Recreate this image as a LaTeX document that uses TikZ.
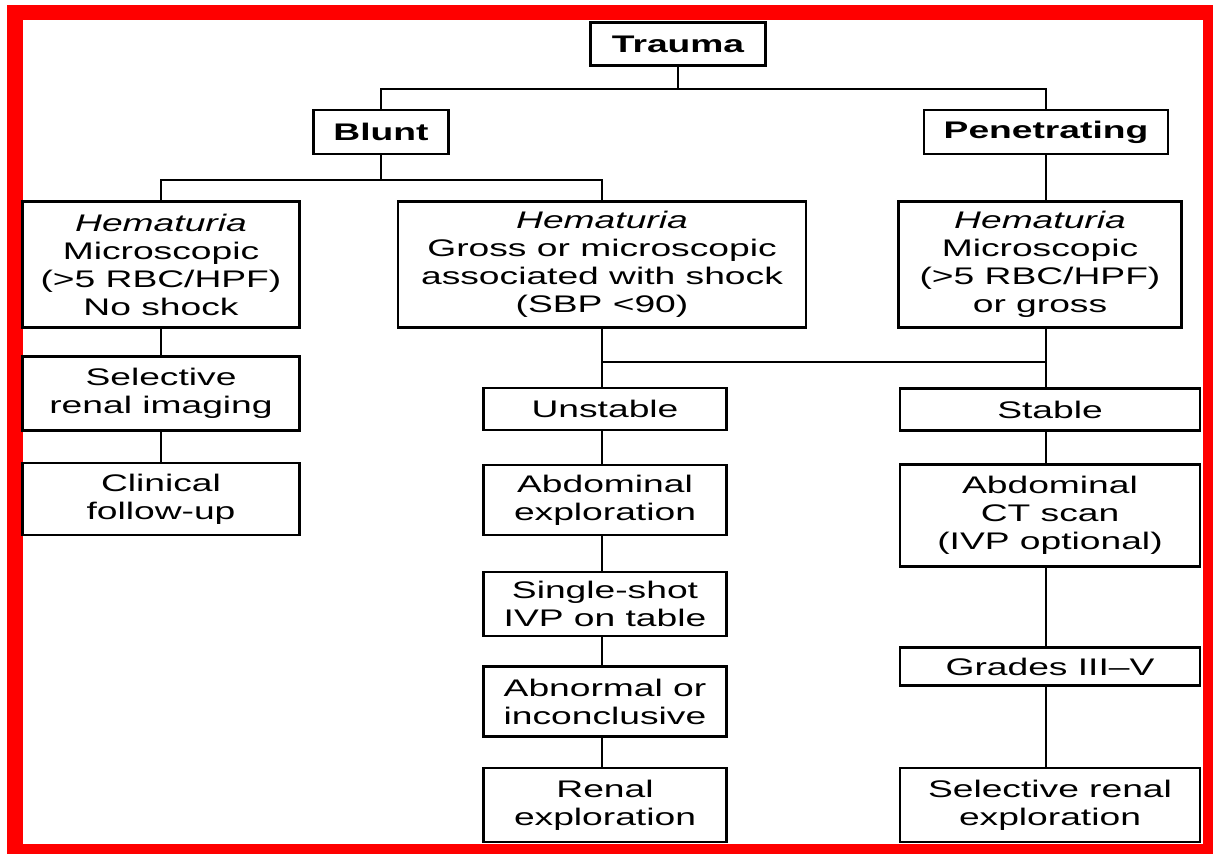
\documentclass[tikz,border=0pt]{standalone}
\usepackage{fontspec}
\setmainfont{Liberation Sans}[FakeStretch=1.55]
\usepackage{tikz}
\usetikzlibrary{positioning,calc}

\begin{document}
\begin{tikzpicture}[
 x=0.75pt,y=-0.75pt,font=\fontsize{18}{21}\selectfont,
 box/.style={draw=black,line width=2.1pt,fill=white,align=center,inner sep=2pt},
 head/.style={box,font=\fontsize{18}{21}\selectfont\bfseries},
 hem/.style={box,minimum height=94pt},
 leftcol/.style={box,minimum width=208pt},
 midcol/.style={box,minimum width=182pt},
 rightcol/.style={box,minimum width=225pt},
 link/.style={line width=2.1pt}]
\useasboundingbox (0,0) rectangle (1213,854);
\fill[red] (7,5) rectangle (1213,854);
\fill[white] (23,20) rectangle (1203,844);
% top levels
\node[head,minimum width=131pt,minimum height=32pt] (trauma) at (678,44) {Trauma};
\node[head,minimum width=101pt,minimum height=33pt] (blunt) at (381,132) {Blunt};
\node[head,minimum width=183pt,minimum height=33pt] (penet) at (1046,132) {Penetrating};
\coordinate (tj) at (678,89);
\draw[link] (trauma.south) -- (tj);
\draw[link] (blunt.north) |- (tj) -| (penet.north);
% hematuria boxes
\node[hem,minimum width=208pt] (hem1) at (161,264.5)
 {\textit{Hematuria}\\Microscopic\\(>5 RBC/HPF)\\No shock};
\node[hem,minimum width=306pt] (hem2) at (602,264.5)
 {\textit{Hematuria}\\Gross or microscopic\\associated with shock\\(SBP <90)};
\node[hem,minimum width=212pt] (hem3) at (1040,264.5)
 {\textit{Hematuria}\\Microscopic\\(>5 RBC/HPF)\\or gross};
\coordinate (bj) at (381,180);
\draw[link] (blunt.south) -- (bj);
\draw[link] (hem1.north) |- (bj) -| (hem2.north);
\draw[link] (penet.south) -- (penet.south |- hem3.north);
% left column
\node[leftcol,minimum height=55pt] (imaging) at (161,393.5) {Selective\\renal imaging};
\node[leftcol,minimum height=54pt] (followup) at (161,499) {Clinical\\follow-up};
\draw[link] (hem1) -- (imaging);
\draw[link] (imaging) -- (followup);
% middle column
\node[midcol,minimum height=31.5pt] (unstable) at (605,409) {Unstable};
\node[midcol,minimum height=52.5pt] (abdexp) at (605,500) {Abdominal\\exploration};
\node[midcol,minimum height=48pt] (ivp) at (605,604) {Single-shot\\IVP on table};
\node[midcol,minimum height=52pt] (abnormal) at (605,701.5) {Abnormal or\\inconclusive};
\node[midcol,minimum height=55.5pt] (renal) at (605,805) {Renal\\exploration};
% right column
\node[rightcol,minimum height=32pt] (stable) at (1050,409.5) {Stable};
\node[rightcol,minimum height=77pt] (ctscan) at (1050,515.5) {Abdominal\\CT scan\\(IVP optional)};
\node[rightcol,minimum height=28pt] (grades) at (1050,666.5) {Grades III--V};
\node[rightcol,minimum height=55.5pt] (selexp) at (1050,805) {Selective renal\\exploration};
% split to stable / unstable
\coordinate (split) at (1046,362);
\draw[link] (hem2.south) -- (hem2.south |- unstable.north);
\draw[link] (hem3.south -| split) -- (split |- stable.north);
\draw[link] (hem2.south |- split) -- (split);
\foreach \a/\b in {unstable/abdexp,abdexp/ivp,ivp/abnormal,abnormal/renal}
 \draw[link] (\a.south -| hem2.south) -- (\b.north -| hem2.south);
\foreach \a/\b in {stable/ctscan,ctscan/grades,grades/selexp}
 \draw[link] (\a.south -| split) -- (\b.north -| split);
\end{tikzpicture}
\end{document}
